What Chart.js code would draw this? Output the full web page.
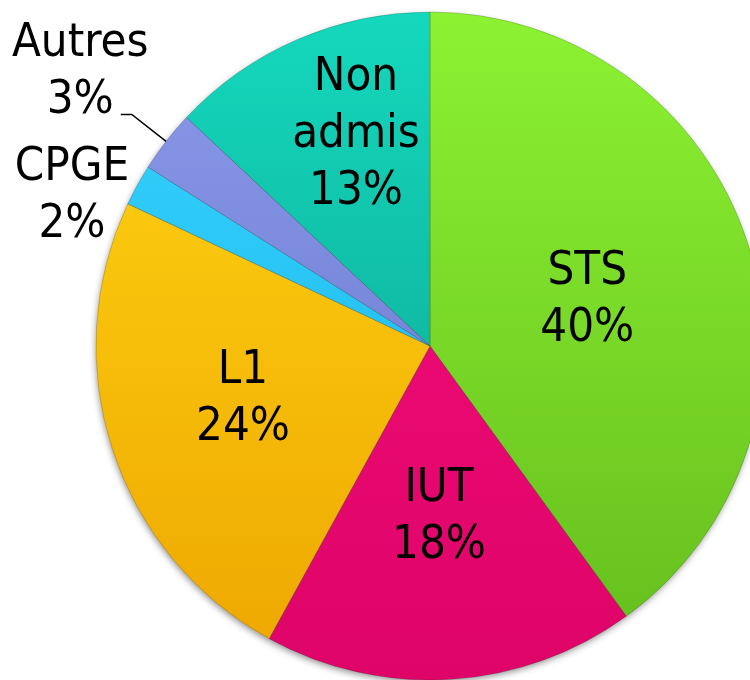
<!DOCTYPE html>
<html><head><meta charset="utf-8">
<script src="https://cdn.jsdelivr.net/npm/chart.js@4.4.1/dist/chart.umd.min.js"></script>
<style>html,body{margin:0;padding:0;background:#fff;overflow:hidden}canvas{display:block}</style>
</head><body>
<canvas id="c" width="750" height="680"></canvas>
<script>
// ---- data ----
const categories = ['STS', 'IUT', 'L1', 'CPGE', 'Autres', 'Non admis'];
const percentages = [40, 18, 24, 2, 3, 13];

// ---- styles ----
const lightColors = ['#8CF232', '#F60E7C', '#FFD614', '#38D2FF', '#8A9AEA', '#14D8BC'];
const darkColors  = ['#64BC1C', '#DE0468', '#EEA600', '#14B4E6', '#6672C8', '#0C9C8C'];
const labelRadiusRatio = [0.495, 0.498, 0.578, 1.167, 1.338, 0.684];
const labelAngleShift  = [0, 0.5, 3.6, -5.5, 0.7, 4.5];
const labelLeader      = [false, false, false, false, true, false];
const FONT_SIZE = 47;
const LINE_H = 57;
const FONT_FAMILY = "'DejaVu Sans Condensed', 'DejaVu Sans', sans-serif";

function sliceGradient(context) {
  const i = context.dataIndex;
  const chart = context.chart;
  const area = chart.chartArea;
  if (!area) return lightColors[i];
  const g = chart.ctx.createLinearGradient(0, area.top, 0, area.bottom);
  g.addColorStop(0, lightColors[i]);
  g.addColorStop(1, darkColors[i]);
  return g;
}

const pieDecor = {
  id: 'pieDecor',
  beforeDatasetsDraw(chart) {
    const arc = chart.getDatasetMeta(0).data[0];
    if (!arc) return;
    const p = arc.getProps(['x', 'y', 'outerRadius'], true);
    const ctx = chart.ctx;
    ctx.save();
    ctx.shadowColor = 'rgba(0,0,0,0.45)';
    ctx.shadowBlur = 7;
    ctx.shadowOffsetX = -1;
    ctx.shadowOffsetY = 3;
    ctx.fillStyle = '#888';
    ctx.beginPath();
    ctx.arc(p.x, p.y, p.outerRadius - 1, 0, Math.PI * 2);
    ctx.fill();
    ctx.restore();
  },
  afterDatasetsDraw(chart) {
    const ctx = chart.ctx;
    const meta = chart.getDatasetMeta(0);
    const ds = chart.data.datasets[0];
    ctx.save();
    ctx.font = FONT_SIZE + 'px ' + FONT_FAMILY;
    ctx.fillStyle = '#000';
    ctx.strokeStyle = '#000';
    ctx.textAlign = 'center';
    ctx.textBaseline = 'alphabetic';
    const capH = FONT_SIZE * 0.73;
    meta.data.forEach((el, i) => {
      const p = el.getProps(['x', 'y', 'startAngle', 'endAngle', 'outerRadius'], true);
      const midTrue = (p.startAngle + p.endAngle) / 2;
      const mid = midTrue + labelAngleShift[i] * Math.PI / 180;
      const r = p.outerRadius * labelRadiusRatio[i];
      const cx = p.x + Math.cos(mid) * r;
      const cy = p.y + Math.sin(mid) * r;
      const lines = chart.data.labels[i].split(' ').concat([ds.data[i] + '%']);
      const n = lines.length;
      lines.forEach((t, k) => {
        ctx.fillText(t, cx, cy + (k - (n - 1) / 2) * LINE_H + capH / 2);
      });
      if (labelLeader[i]) {
        const yb = cy + ((n - 1) / 2) * LINE_H + capH / 2 + 1;
        const w = ctx.measureText(lines[n - 1]).width;
        const right = cx + w / 2;
        const ax = p.x + Math.cos(midTrue) * p.outerRadius;
        const ay = p.y + Math.sin(midTrue) * p.outerRadius;
        ctx.lineWidth = 1.5;
        ctx.beginPath();
        ctx.moveTo(right + 7, yb);
        ctx.lineTo(right + 18, yb);
        ctx.lineTo(ax, ay);
        ctx.stroke();
      }
    });
    ctx.restore();
  }
};

new Chart(document.getElementById('c'), {
  type: 'pie',
  data: {
    labels: categories,
    datasets: [{
      data: percentages,
      backgroundColor: sliceGradient,
      borderColor: 'rgba(40,40,40,0.2)',
      borderWidth: 1,
      radius: 334,
      clip: false
    }]
  },
  options: {
    responsive: false,
    devicePixelRatio: 1,
    animation: false,
    events: [],
    layout: { padding: { left: 110, right: 0, top: 12, bottom: 0 } },
    plugins: { legend: { display: false }, tooltip: { enabled: false } }
  },
  plugins: [pieDecor]
});
</script>
</body></html>
